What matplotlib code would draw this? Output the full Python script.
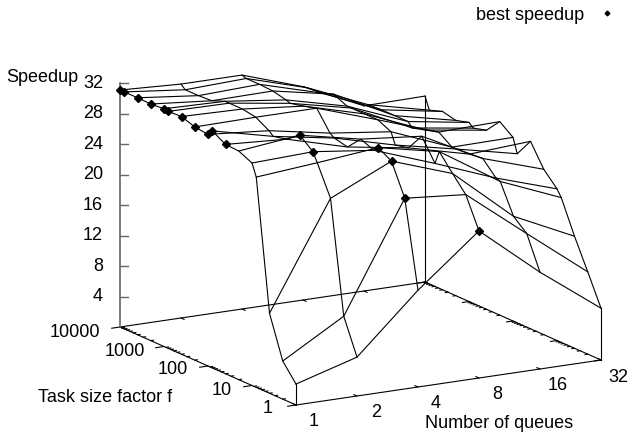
import numpy as np
from matplotlib import pyplot as plt

plt.rcParams['font.family'] = ['Liberation Sans', 'DejaVu Sans']

queues = [1, 2, 4, 8, 16, 32]
factors = [1, 2, 4, 8, 10, 20, 40, 80, 100, 200, 400, 800, 1000, 2000, 4000, 8000, 10000]

# speedup for each number of queues, one value per task size factor
speedup_q1 = [2.75, 5.0, 10.5, 27.6, 29.2, 30.0, 30.1, 31.1, 30.4, 30.6, 31.2, 31.1, 31.2, 31.05, 31.1, 31.1, 31.1]
speedup_q2 = [5.1, 9.7, 24.4, 28.3, 29.5, 30.9, 29.6, 29.2, 29.7, 30.7, 31.0, 31.0, 31.0, 30.3, 30.2, 30.2, 30.7]
speedup_q4 = [12.7, 24.0, 28.1, 29.1, 28.5, 29.2, 27.4, 27.8, 28.2, 30.7, 30.2, 29.8, 30.0, 30.4, 30.5, 30.5, 30.7]
speedup_q8 = [19.3, 23.3, 25.3, 27.4, 25.6, 28.4, 26.1, 25.7, 27.2, 28.0, 28.0, 28.0, 28.0, 28.8, 28.2, 28.1, 28.0]
speedup_q16 = [12.7, 17.0, 18.5, 22.3, 22.5, 24.3, 24.1, 24.0, 24.0, 25.2, 24.7, 24.2, 24.8, 24.8, 24.8, 24.7, 24.3]
speedup_q32 = [6.8, 10.8, 14.7, 19.0, 19.9, 21.7, 24.6, 22.2, 24.1, 25.4, 23.5, 23.0, 23.5, 23.0, 23.4, 22.8, 24.4]
speedup = np.array([speedup_q1, speedup_q2, speedup_q4, speedup_q8, speedup_q16, speedup_q32])

# number of queues giving the best speedup for each factor
best_q = [8, 4, 4, 4, 2, 2, 1, 1, 1, 1, 1, 1, 1, 1, 1, 1, 1]

z_ticks = [4, 8, 12, 16, 20, 24, 28, 32]
f_ticks = [1, 10, 100, 1000, 10000]
f_minor = [m * 10**d for d in range(4) for m in range(2, 10)]


def project(q, f, z=0):
    # same fixed view as the original 3d plot, gives pixel position
    ix = np.log2(q)
    iy = np.log10(f)
    z = np.asarray(z, dtype=float)
    px = 296 + 61 * ix - 44 * iy
    py = 405 - 9 * ix - 19.5 * iy - 7.62 * z
    px, py = np.broadcast_arrays(px, py)
    return px, py


fig = plt.figure(figsize=(6.35, 4.36), dpi=100)
ax = fig.add_axes([0, 0, 1, 1])
ax.set_xlim(0, 635)
ax.set_ylim(436, 0)
ax.axis('off')

line = dict(color='black', lw=0.8, solid_joinstyle='miter')

# surface wires
for i, q in enumerate(queues):
    ax.plot(*project(q, np.array(factors), speedup[i]), **line)
for j, f in enumerate(factors):
    ax.plot(*project(np.array(queues), f, speedup[:, j]), **line)

# base frame
for qa, fa, qb, fb in [(1, 1, 32, 1), (1, 1, 1, 10000), (1, 10000, 32, 10000), (32, 1, 32, 10000)]:
    xa, ya = project(qa, fa)
    xb, yb = project(qb, fb)
    ax.plot([xa, xb], [ya, yb], **line)

# corner verticals
for q, f in [(1, 1), (32, 1), (32, 10000)]:
    i = queues.index(q)
    j = factors.index(f)
    ax.plot(*project(q, f, np.array([0, speedup[i, j]])), **line)

# ticks on the base
for q in queues:
    for f, d in [(1, 0.07), (10000, -0.07)]:
        ax.plot(*project(q, np.array([f, f * 10**d])), **line)
for f in f_ticks:
    for q, d in [(1, 0.91), (32, 0.93)]:
        ax.plot(*project(np.array([q, q * d]), f), **line)
for f in f_minor:
    for q, d in [(1, 1.03), (32, 0.97)]:
        ax.plot(*project(np.array([q, q * d]), f), **line)

# z axis
zx, zy = project(1, 10000, np.array([0, 32]))
ax.plot(zx, zy, color='#666666', lw=1.2)
for z in z_ticks:
    tx, ty = project(np.array([1, 1.09]), 10000, z)
    ax.plot(tx, [ty[0], ty[0]], color='#666666', lw=1.0)
    ax.text(103, ty[0], str(z), ha='right', va='center', fontsize=13)

# best speedup markers
for j, f in enumerate(factors):
    i = queues.index(best_q[j])
    mx, my = project(best_q[j], f, speedup[i, j])
    ax.plot([mx], [my], 'kD', ms=3.7, zorder=5, label='best speedup' if j == 0 else None)

ax.legend(loc='upper right', bbox_to_anchor=(0.992, 1.016), frameon=False, markerfirst=False,
          fontsize=13, markerscale=0.65, handlelength=1.0, handletextpad=0.8, borderpad=0.25)

# f tick labels
f_label_pos = [(273, 408), (232, 390), (188, 369), (145, 351), (100, 332)]
for f, (x, y) in zip(f_ticks, f_label_pos):
    ax.text(x, y, str(f), ha='right', va='center', fontsize=13)

# q tick labels
q_label_pos = [(314, 421), (376, 412), (436, 403), (497, 394), (558, 385), (618, 377)]
for q, (x, y) in zip(queues, q_label_pos):
    ax.text(x, y, str(q), ha='center', va='center', fontsize=13)

ax.text(6, 78, 'Speedup', ha='left', va='center', fontsize=13)
ax.text(38, 397, 'Task size factor f', ha='left', va='center', fontsize=13)
ax.text(425, 423, 'Number of queues', ha='left', va='center', fontsize=13)

fig.savefig('out.png', dpi=100)
